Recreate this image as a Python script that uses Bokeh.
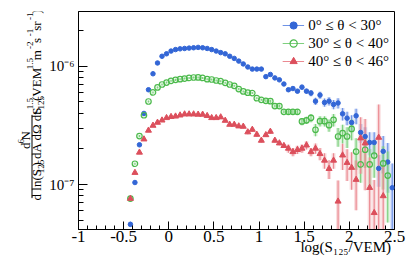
import math
from bokeh.plotting import figure
from bokeh.layouts import row
from bokeh.models import Legend, LegendItem, FixedTicker, ColumnDataSource, Range1d, LinearAxis
from bokeh.core.properties import value
from bokeh.embed import file_html
from bokeh.resources import INLINE

nan = float("nan")

# ---------------- data ----------------
log_s125 = [-0.425, -0.375, -0.325, -0.275, -0.225, -0.175, -0.125, -0.075, -0.025,
            0.025, 0.075, 0.125, 0.175, 0.225, 0.275, 0.325, 0.375, 0.425, 0.475,
            0.525, 0.575, 0.625, 0.675, 0.725, 0.775, 0.825, 0.875, 0.925, 0.975,
            1.025, 1.075, 1.125, 1.175, 1.225, 1.275, 1.325, 1.375, 1.425, 1.475,
            1.525, 1.575, 1.625, 1.675, 1.725, 1.775, 1.825, 1.875, 1.925, 1.975,
            2.025, 2.075, 2.125, 2.175, 2.225, 2.275, 2.325, 2.375, 2.425, 2.475]

flux_0_30 = [4.6e-8, 1.04e-7, 2.17e-7, 4.0e-7, 6.35e-7, 8.67e-7, 1.07e-6, 1.22e-6, 1.28e-6,
             1.35e-6, 1.39e-6, 1.41e-6, 1.42e-6, 1.43e-6, 1.44e-6, 1.45e-6, 1.44e-6, 1.42e-6, 1.39e-6,
             1.35e-6, 1.31e-6, 1.28e-6, 1.22e-6, 1.17e-6, 1.11e-6, 1.05e-6, 9.9e-7, 9.5e-7, 9.5e-7,
             9.5e-7, 8.2e-7, 8.55e-7, 8.0e-7, 7.7e-7, 7.1e-7, 6.35e-7, 6.5e-7, 6.18e-7, 6.68e-7,
             6.18e-7, 5.95e-7, 5.08e-7, 5.72e-7, 4.95e-7, 5.08e-7, 4.77e-7, 4.9e-7, 3.97e-7, 3.65e-7,
             3.35e-7, 3.82e-7, 2.76e-7, 2.55e-7, 2.27e-7, 2.27e-7, 1.37e-7, 1.91e-7, 1.55e-7, 9.4e-8]
relerr_0_30 = [0.05, 0.02, 0.01, 0.01, 0.01, 0.01, 0.01, 0.01, 0.01,
               0.01, 0.01, 0.01, 0.01, 0.01, 0.01, 0.01, 0.01, 0.01, 0.01,
               0.01, 0.01, 0.01, 0.01, 0.01, 0.01, 0.01, 0.01, 0.01, 0.01,
               0.01, 0.01, 0.02, 0.02, 0.02, 0.02, 0.03, 0.04, 0.04, 0.05,
               0.05, 0.06, 0.07, 0.07, 0.08, 0.08, 0.09, 0.10, 0.12, 0.13,
               0.15, 0.15, 0.18, 0.20, 0.22, 0.22, 0.30, 0.35, 0.45, 0.60]

flux_30_40 = [7.6e-8, 1.5e-7, 2.57e-7, 3.86e-7, 5.05e-7, 6.02e-7, 6.64e-7, 7.03e-7, 7.3e-7,
              7.56e-7, 7.7e-7, 7.8e-7, 7.9e-7, 8.0e-7, 8.06e-7, 8.07e-7, 8.0e-7, 7.8e-7, 7.75e-7,
              7.6e-7, 7.5e-7, 7.27e-7, 7.03e-7, 6.86e-7, 6.43e-7, 6.14e-7, 6.0e-7, 5.95e-7, 5.39e-7,
              5.22e-7, 5.12e-7, 5.08e-7, 4.62e-7, 4.62e-7, 4.13e-7, 4.13e-7, 4.13e-7, 4.13e-7, 3.42e-7,
              3.5e-7, 3.67e-7, 2.91e-7, 3.44e-7, 3.44e-7, 3.18e-7, 3.53e-7, 2.55e-7, 2.72e-7, 2.55e-7,
              2.96e-7, 1.9e-7, 1.48e-7, 1.97e-7, 1.48e-7, 1.76e-7, nan, 1.51e-7, 1.19e-7, nan]
relerr_30_40 = [0.03, 0.02, 0.02, 0.02, 0.02, 0.02, 0.02, 0.02, 0.02,
                0.02, 0.02, 0.02, 0.02, 0.02, 0.02, 0.02, 0.02, 0.02, 0.02,
                0.02, 0.02, 0.02, 0.02, 0.02, 0.02, 0.02, 0.02, 0.02, 0.02,
                0.02, 0.03, 0.03, 0.03, 0.03, 0.03, 0.05, 0.05, 0.05, 0.07,
                0.07, 0.08, 0.12, 0.10, 0.10, 0.12, 0.12, 0.18, 0.18, 0.20,
                0.20, 0.30, 0.30, 0.30, 0.35, 0.35, nan, 0.40, 0.60, nan]

flux_40_46 = [7.6e-8, 1.26e-7, 1.87e-7, 2.42e-7, 2.87e-7, 3.16e-7, 3.35e-7, 3.5e-7, 3.67e-7,
              3.75e-7, 3.78e-7, 3.86e-7, 3.94e-7, 3.94e-7, 3.94e-7, 3.92e-7, 3.92e-7, 3.82e-7, 3.67e-7,
              3.67e-7, 3.72e-7, 3.48e-7, 3.22e-7, 3.22e-7, 3.12e-7, 3.1e-7, 2.78e-7, 2.92e-7, 2.65e-7,
              2.36e-7, 2.63e-7, 2.81e-7, 2.36e-7, 2.24e-7, 2.13e-7, 2.02e-7, 1.89e-7, 1.97e-7, 2.02e-7,
              2.15e-7, 1.89e-7, 2.02e-7, 1.82e-7, 1.6e-7, 1.36e-7, 1.6e-7, 7.2e-8, 1.77e-7, 1.53e-7,
              1.39e-7, 1.1e-7, 2.47e-7, 2.24e-7, 9.4e-8, 5.76e-8, 2.5e-7, 8.0e-8, nan, nan]
relerr_40_46 = [0.03, 0.02, 0.02, 0.02, 0.02, 0.02, 0.02, 0.02, 0.02,
                0.02, 0.02, 0.02, 0.02, 0.02, 0.02, 0.02, 0.02, 0.02, 0.02,
                0.02, 0.02, 0.02, 0.02, 0.02, 0.02, 0.04, 0.04, 0.04, 0.04,
                0.04, 0.04, 0.04, 0.04, 0.04, 0.04, 0.08, 0.08, 0.08, 0.08,
                0.08, 0.08, 0.10, 0.12, 0.15, 0.18, 0.15, 0.50, 0.25, 0.30,
                0.35, 0.45, 0.50, 0.60, 0.80, 0.90, 0.90, 0.80, nan, nan]

series_labels = ["0° ≤ θ < 30°", "30° ≤ θ < 40°", "40° ≤ θ < 46°"]

x_ticks = [-1, -0.5, 0, 0.5, 1, 1.5, 2, 2.5]
x_tick_labels = ["-1", "-0.5", "0", "0.5", "1", "1.5", "2", "2.5"]
x_minor = [-0.9, -0.8, -0.7, -0.6, -0.4, -0.3, -0.2, -0.1, 0.1, 0.2, 0.3, 0.4,
           0.6, 0.7, 0.8, 0.9, 1.1, 1.2, 1.3, 1.4, 1.6, 1.7, 1.8, 1.9, 2.1, 2.2, 2.3, 2.4]
y_ticks = [1e-7, 1e-6]
y_tick_labels = ["10⁻⁷", "10⁻⁶"]
y_minor = [5e-8, 6e-8, 7e-8, 8e-8, 9e-8, 2e-7, 3e-7, 4e-7, 5e-7, 6e-7, 7e-7, 8e-7, 9e-7, 2e-6]
x_title = "log(S₁₂₅/VEM)"
x_title_at = 1.96           # centre of the x title, in log(S125) units

# ---------------- layout constants (page pixels) ----------------
FONT = "Liberation Serif"
W, H = 409, 271
STRIP = 46                      # left strip holding the y-axis title
FL, FR, FT, FB = 76, 394, 11, 229

# ---------------- main figure ----------------
p = figure(width=W - STRIP, height=H, x_range=(-1, 2.5), y_range=(4.16e-8, 2.92e-6),
           y_axis_type="log", output_backend="svg", toolbar_location=None,
           min_border_left=FL - STRIP, min_border_right=W - FR, min_border_top=FT,
           min_border_bottom=H - FB)
p.grid.visible = False
p.outline_line_color = "black"
p.outline_line_width = 1
p.background_fill_color = "white"
p.border_fill_color = "white"

xa = p.xaxis[0]
xa.ticker = FixedTicker(ticks=x_ticks, minor_ticks=x_minor)
xa.major_label_overrides = {t: s for t, s in zip(x_ticks, x_tick_labels)}
xa.major_tick_in = 8
xa.major_tick_out = 0
xa.minor_tick_in = 4
xa.minor_tick_out = 0
xa.axis_line_color = "black"
xa.major_tick_line_color = "black"
xa.minor_tick_line_color = "black"
xa.major_label_text_font = FONT
xa.major_label_text_font_size = "17px"
xa.major_label_text_color = "black"
xa.major_label_standoff = 1

# second bottom axis: only carries the x title, right-aligned under the frame
ta = LinearAxis(ticker=FixedTicker(ticks=[x_title_at], minor_ticks=[]),
                major_label_overrides={x_title_at: x_title},
                axis_line_color=None, major_tick_line_color=None, minor_tick_line_color=None,
                major_tick_in=0, major_tick_out=0, minor_tick_in=0, minor_tick_out=0,
                major_label_text_font=FONT, major_label_text_font_size="15px",
                major_label_text_color="black", major_label_standoff=-6)
p.add_layout(ta, "below")

ya = p.yaxis[0]
ya.ticker = FixedTicker(ticks=y_ticks, minor_ticks=y_minor)
ya.major_label_overrides = {t: s for t, s in zip(y_ticks, y_tick_labels)}
ya.major_label_text_font = FONT
ya.major_label_text_font_size = "15px"
ya.major_label_text_color = "black"
ya.major_label_standoff = 4
ya.major_tick_in = 9
ya.major_tick_out = 0
ya.minor_tick_in = 5
ya.minor_tick_out = 0
ya.axis_line_color = "black"
ya.major_tick_line_color = "black"
ya.minor_tick_line_color = "black"

colors = ["#3366d6", "#4cba4c", "#dc4f5c"]
bar_colors = ["#6f93e6", "#7fd07f", "#eb8a92"]
fluxes = [flux_0_30, flux_30_40, flux_40_46]
relerrs = [relerr_0_30, relerr_30_40, relerr_40_46]

for i in range(3):
    xs, lo, hi = [], [], []
    for x, v, r in zip(log_s125, fluxes[i], relerrs[i]):
        if math.isnan(v):
            continue
        xs.append(x)
        lo.append(max(v * (1 - r), 1e-9))
        hi.append(v * (1 + r))
    p.segment(x0=xs, y0=lo, x1=xs, y1=hi, line_color=bar_colors[i], line_width=4, line_alpha=0.3)
    p.segment(x0=xs, y0=lo, x1=xs, y1=hi, line_color=bar_colors[i], line_width=1.2)

items = []
for i in range(3):
    ys = fluxes[i]
    if i == 0:
        r = p.scatter(log_s125, ys, marker="circle", size=4.5, fill_color=colors[0], line_color=colors[0])
    elif i == 1:
        r = p.scatter(log_s125, ys, marker="circle", size=5.5, fill_color=None, line_color=colors[1], line_width=1.2)
    else:
        r = p.scatter(log_s125, ys, marker="triangle", size=6, fill_color=colors[2], line_color=colors[2])
    lr = p.line(x=[nan], y=[nan], line_color=bar_colors[i], line_width=1.2)
    items.append(LegendItem(label=series_labels[i], renderers=[lr, r]))

legend = Legend(items=items, location="top_right", margin=0, padding=5, spacing=0,
                label_height=18, glyph_height=18, glyph_width=22, label_standoff=4,
                label_text_font=FONT, label_text_font_size="15px", label_text_color="black",
                label_text_line_height=1.0,
                border_line_alpha=0, background_fill_alpha=0)
p.add_layout(legend)

# ---------------- left strip: y-axis title (fraction) ----------------
q = figure(width=STRIP, height=H, x_range=Range1d(0, STRIP), y_range=Range1d(0, H),
           output_backend="svg", toolbar_location=None, min_border=0,
           min_border_left=0, min_border_right=0, min_border_top=0, min_border_bottom=0,
           x_axis_location=None, y_axis_location=None)
q.grid.visible = False
q.outline_line_color = None
q.background_fill_color = "white"
q.border_fill_color = "white"

WIDTHS = {' ': 250, '(': 333, ')': 333, '.': 250, '/': 278, '-': 333, 'd': 500, 'l': 278,
          'n': 500, 'o': 500, 'g': 500, 's': 389, 'r': 333, 't': 278, 'm': 778, 'A': 722,
          'E': 611, 'M': 889, 'N': 722, 'S': 556, 'V': 722, 'Ω': 768}


def tw(s, size):
    return sum(WIDTHS.get(c, 500) for c in s) * size / 1000.0


runs_x, runs_y, runs_t, runs_s = [], [], [], []


def chain(runs, start_py):
    """runs: (text, size, centre x in page px, advances?) laid out upward from start_py."""
    a = start_py
    for t, s, cx, adv in runs:
        w = tw(t, s)
        runs_x.append(cx)
        runs_y.append(H - (a - w / 2))
        runs_t.append(t)
        runs_s.append(f"{s}px")
        if adv:
            a -= w
    return a


DEN, NUM, RP = 35.5, 24.5, 35.5   # centre lines of denominator, numerator, following text
den_start = 231
den_end = chain([("d ln(S", 13, DEN, True), ("125", 9, DEN + 4.5, True),
                 (") dA dΩ dt", 13, DEN, True)], den_start)
num_len = tw("d", 13) + tw("6", 9) + tw("N", 13)
chain([("d", 13, NUM, True), ("6", 9, NUM - 4, True), ("N", 13, NUM, True)], 160 + num_len / 2)
rp_start = den_end - 2
a = chain([("S", 13, RP, True)], rp_start)
chain([("1.5", 9, RP - 6, False)], a)
chain([("125", 9, RP + 4.5, True), (" (VEM", 13, RP, True), ("1.5", 9, RP - 6, True),
       (" m", 13, RP, True), ("-2", 9, RP - 6, True), (" s", 13, RP, True),
       ("-1", 9, RP - 6, True), (" sr", 13, RP, True), ("-1", 9, RP - 6, True),
       (")", 13, RP, True)], a)

src = ColumnDataSource(dict(x=runs_x, y=runs_y, text=runs_t, size=runs_s))
q.text(x="x", y="y", text="text", source=src, angle=math.pi / 2, text_font=value(FONT),
       text_font_size="size", text_color="black", text_align="center", text_baseline="middle")
q.segment(x0=[31.5], y0=[H - den_start - 1], x1=[31.5], y1=[H - den_end + 1],
          line_color="black", line_width=1)

layout = row(q, p, spacing=0)
open("out.html", "w").write(file_html(layout, INLINE))
